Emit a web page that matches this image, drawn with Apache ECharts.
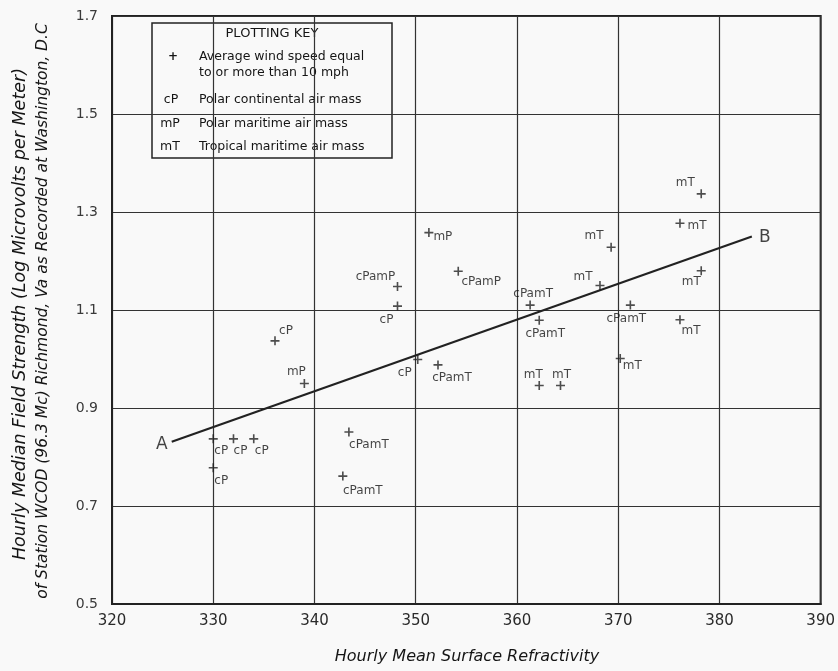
<!DOCTYPE html>
<html>
<head>
<meta charset="utf-8">
<script src="https://cdn.jsdelivr.net/npm/echarts@6/dist/echarts.min.js"></script>
<style>
html,body{margin:0;padding:0;background:#f9f9f9;}
#chart{width:838px;height:671px;}
</style>
</head>
<body>
<div id="chart"></div>
<script>
// ---- data ----
const xTickLabels = ['320','330','340','350','360','370','380','390'];
const yTickLabels = ['0.5','0.7','0.9','1.1','1.3','1.5','1.7'];

const pointX = [330.0, 332.0, 334.0, 330.0, 336.1, 348.2, 350.2,
                339.0, 351.3,
                348.2, 354.2,
                343.4, 342.8, 352.2, 361.3, 362.2, 371.2,
                368.2, 369.3, 370.2, 362.2, 364.3, 378.2, 376.1, 378.2, 376.1];
const pointY = [0.837, 0.837, 0.837, 0.778, 1.037, 1.108, 0.999,
                0.950, 1.258,
                1.148, 1.179,
                0.851, 0.761, 0.988, 1.110, 1.079, 1.110,
                1.150, 1.228, 1.001, 0.946, 0.946, 1.337, 1.277, 1.180, 1.080];
const pointText = ['cP','cP','cP','cP','cP','cP','cP',
                   'mP','mP',
                   'cPamP','cPamP',
                   'cPamT','cPamT','cPamT','cPamT','cPamT','cPamT',
                   'mT','mT','mT','mT','mT','mT','mT','mT','mT'];

const lineX = [325.9, 383.2];
const lineY = [0.831, 1.250];
const lineEndText = ['A', 'B'];

// ---- label placement (style, px offsets from the mark) ----
const labelOffsets = [[8,12],[7,12],[8,12],[8,13],[11,-10],[-11,14],[-13,13],
                      [-8,-12],[14,4],
                      [-22,-10],[23,11],
                      [20,13],[20,15],[14,13],[3,-11],[6,14],[-4,14],
                      [-17,-9],[-17,-11],[12,7],[-6,-11],[1,-11],[-16,-11],[17,3],[-10,11],[11,11]];
const lineEndOffsets = [[-10,3],[13,1]];

const FONT = '"DejaVu Sans", sans-serif';
const INK = '#222';
const TXT = '#151515';
const plus = 'path://M4.1,0H5.9V4.1H10V5.9H5.9V10H4.1V5.9H0V4.1H4.1Z';

const scatterData = pointX.map((x, i) => ({
  value: [x, pointY[i]],
  label: { formatter: pointText[i], offset: labelOffsets[i] }
}));
const lineData = lineX.map((x, i) => [x, lineY[i]]);
const endData = lineX.map((x, i) => ({
  value: [x, lineY[i]],
  label: { formatter: lineEndText[i], offset: lineEndOffsets[i] }
}));

const chart = echarts.init(document.getElementById('chart'), null, { renderer: 'canvas' });

const legendX = 152, legendY = 23;
const LF = '12.5px ' + FONT;
const legendG = {
  type: 'group', z: 100,
  children: [
    { type: 'rect', shape: { x: legendX, y: legendY, width: 240, height: 135 },
      style: { fill: '#f9f9f9', stroke: INK, lineWidth: 1.5 } },
    { type: 'text', x: 272, y: 34, style: { text: 'PLOTTING KEY', font: '13px ' + FONT, fill: TXT, textAlign: 'center', textVerticalAlign: 'middle' } },
    { type: 'text', x: 173, y: 57, style: { text: '+', font: 'bold 12px ' + FONT, fill: TXT, textAlign: 'center', textVerticalAlign: 'middle' } },
    { type: 'text', x: 199, y: 57, style: { text: 'Average wind speed equal', font: LF, fill: TXT, textVerticalAlign: 'middle' } },
    { type: 'text', x: 199, y: 73, style: { text: 'to or more than 10 mph', font: LF, fill: TXT, textVerticalAlign: 'middle' } },
    { type: 'text', x: 171, y: 100, style: { text: 'cP', font: LF, fill: TXT, textAlign: 'center', textVerticalAlign: 'middle' } },
    { type: 'text', x: 199, y: 100, style: { text: 'Polar continental air mass', font: LF, fill: TXT, textVerticalAlign: 'middle' } },
    { type: 'text', x: 170, y: 124, style: { text: 'mP', font: LF, fill: TXT, textAlign: 'center', textVerticalAlign: 'middle' } },
    { type: 'text', x: 199, y: 124, style: { text: 'Polar maritime air mass', font: LF, fill: TXT, textVerticalAlign: 'middle' } },
    { type: 'text', x: 170, y: 147, style: { text: 'mT', font: LF, fill: TXT, textAlign: 'center', textVerticalAlign: 'middle' } },
    { type: 'text', x: 199, y: 147, style: { text: 'Tropical maritime air mass', font: LF, fill: TXT, textVerticalAlign: 'middle' } }
  ]
};

const yTitle1 = { type: 'text', x: 20, y: 314, rotation: Math.PI / 2,
  style: { text: 'Hourly Median Field Strength (Log Microvolts per Meter)', font: 'italic 17.5px ' + FONT, fill: TXT, textAlign: 'center', textVerticalAlign: 'middle' } };
const yTitle2 = { type: 'text', x: 43, y: 311, rotation: Math.PI / 2,
  style: { text: 'of Station WCOD (96.3 Mc) Richmond, Va as Recorded at Washington, D.C', font: 'italic 15.5px ' + FONT, fill: TXT, textAlign: 'center', textVerticalAlign: 'middle' } };
const xTitle = { type: 'text', x: 467, y: 657,
  style: { text: 'Hourly Mean Surface Refractivity', font: 'italic 16px ' + FONT, fill: TXT, textAlign: 'center', textVerticalAlign: 'middle' } };

chart.setOption({
  animation: false,
  backgroundColor: '#f9f9f9',
  grid: { left: 112, top: 16, width: 710, height: 588, show: true, borderColor: INK, borderWidth: 2, backgroundColor: 'transparent' },
  xAxis: {
    type: 'value', min: 320, max: 390, interval: 10,
    axisLine: { show: true, lineStyle: { color: INK, width: 2 } },
    axisTick: { show: false },
    splitLine: { show: true, lineStyle: { color: '#333', width: 1.2 } },
    axisLabel: { margin: 10, fontSize: 15, fontFamily: FONT, color: '#2a2a2a',
      formatter: (v) => xTickLabels[Math.round((v - 320) / 10)] }
  },
  yAxis: {
    type: 'value', min: 0.5, max: 1.7, interval: 0.2,
    axisLine: { show: true, lineStyle: { color: INK, width: 2 } },
    axisTick: { show: false },
    splitLine: { show: true, lineStyle: { color: '#333', width: 1.2 } },
    axisLabel: { margin: 14, fontSize: 14, fontFamily: FONT, color: '#3a3a3a',
      formatter: (v) => yTickLabels[Math.round((v - 0.5) / 0.2)] }
  },
  graphic: [legendG, yTitle1, yTitle2, xTitle],
  series: [
    {
      type: 'line', data: lineData, symbol: 'none',
      lineStyle: { color: INK, width: 2.2 },
      z: 3
    },
    {
      type: 'scatter', data: endData, symbol: 'circle', symbolSize: 1,
      itemStyle: { color: 'rgba(0,0,0,0)' },
      label: { show: true, position: 'inside', fontSize: 17, fontFamily: FONT, color: TXT },
      z: 3
    },
    {
      type: 'scatter', data: scatterData, symbol: plus, symbolSize: 9,
      itemStyle: { color: INK },
      label: { show: true, position: 'inside', fontSize: 12, fontFamily: FONT, color: TXT },
      z: 4
    }
  ]
});
</script>
</body>
</html>
